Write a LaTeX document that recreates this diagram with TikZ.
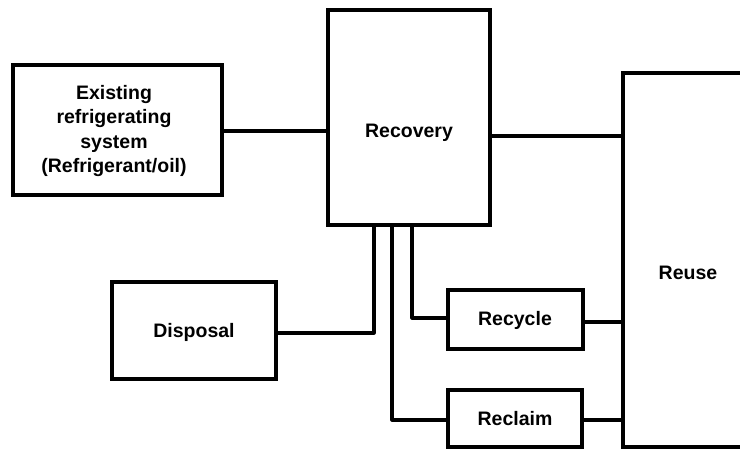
\documentclass[tikz,border=0pt]{standalone}
\usepackage{fontspec}
\setmainfont{Liberation Sans}
\begin{document}
\begin{tikzpicture}[x=1pt,y=-1pt,
  box/.style={draw, line width=3.2pt, inner sep=0pt, minimum width=#1},
  lbl/.style={font=\fontsize{19.5}{24.5}\selectfont\bfseries, align=center, inner sep=0pt},
  conn/.style={line width=3.2pt, line join=round}]
\useasboundingbox (0,0) rectangle (740,449);
\clip (0,0) rectangle (740,449);
% boxes
\node[box=209pt, minimum height=130pt] (existing) at (117.5,130) {};
\node[box=162pt, minimum height=215pt] (recovery) at (409,117.5) {};
\node[box=130pt, minimum height=374pt] (reuse) at (688,260) {};
\node[box=164pt, minimum height=97pt] (disposal) at (194,330.5) {};
\node[box=135pt, minimum height=59pt] (recycle) at (515.5,319.5) {};
\node[box=134pt, minimum height=57pt] (reclaim) at (515,418.5) {};
% labels
\node[lbl] (tExisting) at (114,131) {Existing\\refrigerating\\system\\(Refrigerant/oil)};
\node[lbl] (tRecovery) at (409,133) {Recovery};
\node[lbl] (tReuse) at (688,273) {Reuse};
\node[lbl] (tDisposal) at (194,332) {Disposal};
\node[lbl] (tRecycle) at (515,320) {Recycle};
\node[lbl] (tReclaim) at (515,419) {Reclaim};
% connector points on Recovery's bottom edge
\coordinate (pDis) at (374,225);
\coordinate (pRec) at (392,225);
\coordinate (pCyc) at (412,225);
% connectors
\draw[conn] (existing.east |- 0,131) -- (recovery.west |- 0,131);
\draw[conn] (recovery.east |- 0,136) -- (reuse.west |- 0,136);
\draw[conn] (disposal.east |- 0,333) -| (pDis);
\draw[conn] (pCyc) |- (recycle.west |- 0,318);
\draw[conn] (pRec) |- (reclaim.west |- 0,420);
\draw[conn] (recycle.east |- 0,322) -- (reuse.west |- 0,322);
\draw[conn] (reclaim.east |- 0,420) -- (reuse.west |- 0,420);
\end{tikzpicture}
\end{document}
